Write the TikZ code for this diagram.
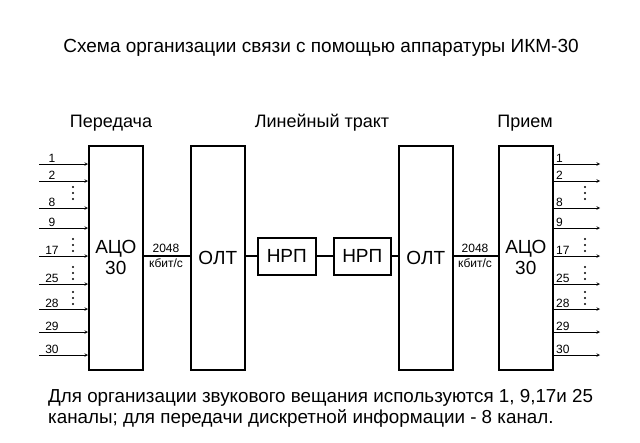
\documentclass[tikz,border=0pt]{standalone}
\usepackage{fontspec}
\setmainfont{Liberation Sans}
\begin{document}
\begin{tikzpicture}[x=1pt,y=-1pt,
  blk/.style={draw,line width=1.6pt,anchor=north west,inner sep=0pt},
  arr/.style={->,>=stealth,line width=0.6pt},
  num/.style={font=\fontsize{12}{12}\selectfont,inner sep=1pt,anchor=south west},
  big/.style={font=\fontsize{19}{21}\selectfont,align=center},
  hdr/.style={font=\fontsize{18}{18}\selectfont,anchor=base}]
\useasboundingbox (0,0) rectangle (640,442);
\node[font=\fontsize{19}{19}\selectfont] (title) at (321,48) {Схема организации связи с помощью аппаратуры ИКМ-30};
\node[hdr] (h1) at (111,127) {Передача};
\node[hdr] (h2) at (322,127) {Линейный тракт};
\node[hdr] (h3) at (525,127) {Прием};
\node[blk,minimum width=54pt,minimum height=224pt] (a1) at (88,145) {};
\node[big] at (a1.center) {АЦО\\30};
\node[blk,minimum width=54pt,minimum height=224pt] (o1) at (190,145) {};
\node[big] at (o1.center) {ОЛТ};
\node[blk,minimum width=58pt,minimum height=37pt] (n1) at (257,237) {};
\node[big] at (n1.center) {НРП};
\node[blk,minimum width=57pt,minimum height=37pt] (n2) at (333,237) {};
\node[big] at (n2.center) {НРП};
\node[blk,minimum width=54pt,minimum height=224pt] (o2) at (398,145) {};
\node[big] at (o2.center) {ОЛТ};
\node[blk,minimum width=54pt,minimum height=224pt] (a2) at (498,145) {};
\node[big] at (a2.center) {АЦО\\30};
\draw[line width=1.6pt] (a1.east|-0,256) -- (o1.west|-0,256);
\draw[line width=1.6pt] (o1.east|-0,256) -- (n1.west|-0,256);
\draw[line width=1.6pt] (n1.east|-0,256) -- (n2.west|-0,256);
\draw[line width=1.6pt] (n2.east|-0,256) -- (o2.west|-0,256);
\draw[line width=1.6pt] (o2.east|-0,256) -- (a2.west|-0,256);
\node[num,anchor=south] (r1) at (166,254) {2048};
\node[num,anchor=north] (k1) at (166,257) {кбит/с};
\node[num,anchor=south] (r2) at (475,254) {2048};
\node[num,anchor=north] (k2) at (475,257) {кбит/с};
\foreach \n/\y in {1/164,2/181,8/208,9/228,17/256,25/284,28/309,29/332,30/355}{
  \coordinate (li\n) at (39,\y);
  \coordinate (ri\n) at (600,\y);
  \draw[arr] (li\n) -- (a1.west|-li\n);
  \draw[arr] (a2.east|-ri\n) -- (ri\n);
  \node[num,anchor=south] at (52,\y) {\n};
  \node[num] at (555,\y) {\n};
}
\foreach \y in {193,245,273,298}{
  \foreach \d in {-6,0,6}{
    \fill (73,\y+\d) circle (1.1);
    \fill (585,\y+\d) circle (1.1);
  }
}
\node[font=\fontsize{18.8}{21}\selectfont,align=left,anchor=north west,inner sep=0pt] (note) at (48,389) {Для организации звукового вещания используются 1, 9,17и 25\\каналы; для передачи дискретной информации - 8 канал.};
\end{tikzpicture}
\end{document}
